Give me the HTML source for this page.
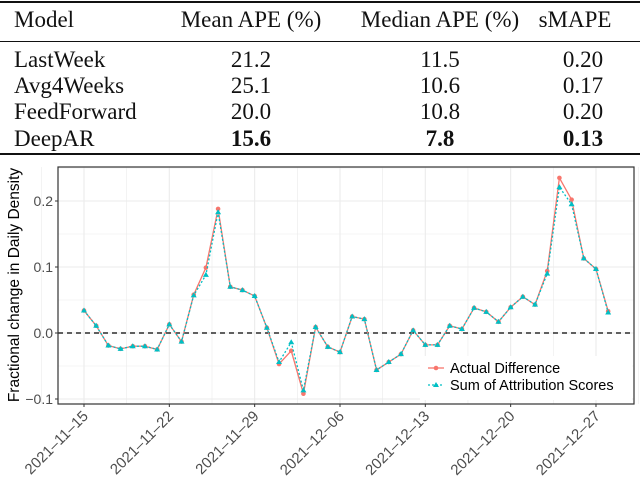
<!DOCTYPE html>
<html><head><meta charset="utf-8"><style>
body{margin:0;background:#fff;width:640px;height:479px;overflow:hidden;position:relative;font-family:"Liberation Serif",serif}
.t{position:absolute;font-size:23px;line-height:23px;color:#111;white-space:nowrap}
.c{transform:translateX(-50%)}
.rule{position:absolute;left:0;width:640px;background:#111}
</style></head><body>
<div>
<div class="rule" style="top:1px;height:2px"></div>
<div class="rule" style="top:41px;height:1px"></div>
<div class="rule" style="top:153px;height:2px"></div>
<div class="t" style="left:14px;top:8px">Model</div>
<div class="t c" style="left:251px;top:8px">Mean APE (%)</div>
<div class="t c" style="left:440px;top:8px">Median APE (%)</div>
<div class="t c" style="left:575px;top:8px">sMAPE</div>
<div class="t" style="left:14px;top:48px">LastWeek</div>
<div class="t c" style="left:251px;top:48px">21.2</div>
<div class="t c" style="left:440px;top:48px">11.5</div>
<div class="t c" style="left:583px;top:48px">0.20</div>
<div class="t" style="left:14px;top:74px">Avg4Weeks</div>
<div class="t c" style="left:251px;top:74px">25.1</div>
<div class="t c" style="left:440px;top:74px">10.6</div>
<div class="t c" style="left:583px;top:74px">0.17</div>
<div class="t" style="left:14px;top:100px">FeedForward</div>
<div class="t c" style="left:251px;top:100px">20.0</div>
<div class="t c" style="left:440px;top:100px">10.8</div>
<div class="t c" style="left:583px;top:100px">0.20</div>
<div class="t" style="left:14px;top:127px">DeepAR</div>
<div class="t c" style="left:251px;top:127px;font-weight:bold">15.6</div>
<div class="t c" style="left:440px;top:127px;font-weight:bold">7.8</div>
<div class="t c" style="left:583px;top:127px;font-weight:bold">0.13</div>
</div>
<svg id="chart" width="640" height="479" style="position:absolute;left:0;top:0" font-family="Liberation Sans, sans-serif"></svg>
<script>
const dayLabels=["2021-11-15","2021-11-22","2021-11-29","2021-12-06","2021-12-13","2021-12-20","2021-12-27"];
const tickDays=[0,7,14,21,28,35,42];
const yTicks=[-0.1,0.0,0.1,0.2];
const actual=[0.034,0.011,-0.019,-0.024,-0.020,-0.020,-0.025,0.013,-0.013,0.058,0.099,0.188,0.070,0.065,0.056,0.008,-0.047,-0.027,-0.092,0.009,-0.021,-0.029,0.025,0.021,-0.056,-0.044,-0.032,0.004,-0.018,-0.018,0.011,0.006,0.038,0.032,0.017,0.039,0.055,0.043,0.094,0.235,0.202,0.113,0.097,0.033];
const attribution=[0.034,0.011,-0.019,-0.024,-0.020,-0.020,-0.025,0.013,-0.013,0.057,0.088,0.183,0.070,0.065,0.056,0.008,-0.044,-0.014,-0.087,0.009,-0.021,-0.029,0.025,0.021,-0.056,-0.044,-0.032,0.004,-0.018,-0.018,0.011,0.006,0.038,0.032,0.017,0.039,0.055,0.043,0.090,0.221,0.195,0.113,0.097,0.031];
const NS="http://www.w3.org/2000/svg",svg=document.getElementById("chart");
const L=58,T=167,R=634,B=404;
const x=d=>84+d*12.19, y=v=>333-v*660;
function el(t,a,p){const e=document.createElementNS(NS,t);for(const k in a)e.setAttribute(k,a[k]);(p||svg).appendChild(e);return e;}
for(let v=-0.1;v<=0.25;v+=0.05){const g=el("line",{x1:L,x2:R,y1:y(v),y2:y(v),stroke:"#ebebeb","stroke-width":Math.abs(Math.round(v*100)%10)<1?1.1:0.6});

}
for(let d=-3.5;d<46;d+=3.5){const g=el("line",{x1:x(d),x2:x(d),y1:T,y2:B,stroke:"#ebebeb","stroke-width":Math.abs(d%7)<0.01?1.1:0.6});

}
const zl=el("line",{x1:L,x2:R,y1:y(0),y2:y(0),stroke:"#000","stroke-width":1.3,"stroke-dasharray":"5,4"});


function series(vals,col,dash,name,tri){
 const p=el("polyline",{points:vals.map((v,i)=>x(i)+","+y(v)).join(" "),fill:"none",stroke:col,"stroke-width":1.3,"stroke-dasharray":dash});
 
 
 vals.forEach((v,i)=>{let m;
  if(tri){m=el("polygon",{points:`${x(i)},${y(v)-3} ${x(i)-3},${y(v)+2} ${x(i)+3},${y(v)+2}`,fill:col});}
  else{m=el("circle",{cx:x(i),cy:y(v),r:2.3,fill:col});}
  
  });
}
series(actual,"#F8766D","",'actual-difference',false);
series(attribution,"#00BFC4","2,2",'attribution-sum',true);
const fr=el("rect",{x:L,y:T,width:R-L,height:B-T,fill:"none",stroke:"#333","stroke-width":1.2});


yTicks.forEach(v=>{const tk=el("line",{x1:L-3,x2:L,y1:y(v),y2:y(v),stroke:"#333"});


const t=el("text",{x:L-5,y:y(v)+5,"text-anchor":"end","font-size":14,fill:"#4d4d4d"});t.textContent=v.toFixed(1).replace("-","\u2212");

});
tickDays.forEach((d,i)=>{const tk=el("line",{x1:x(d),x2:x(d),y1:B,y2:B+3,stroke:"#333"});


const t=el("text",{x:x(d)+5,y:B+13,"text-anchor":"end","font-size":15,fill:"#4d4d4d",transform:`rotate(-45 ${x(d)+5} ${B+13})`});t.textContent=dayLabels[i].replace(/-/g,"\u2013");

});
const yt=el("text",{x:19,y:285,"text-anchor":"middle","font-size":15.5,fill:"#000",transform:"rotate(-90 19 285)"});yt.textContent="Fractional change in Daily Density";


const lg=el("g",{});


el("rect",{x:420,y:356,width:212,height:44,fill:"#fff"},lg);
el("line",{x1:428,x2:444,y1:368,y2:368,stroke:"#F8766D","stroke-width":1.3},lg);
el("circle",{cx:436,cy:368,r:2.3,fill:"#F8766D"},lg);
el("line",{x1:428,x2:444,y1:385,y2:385,stroke:"#00BFC4","stroke-width":1.3,"stroke-dasharray":"2,2"},lg);
el("polygon",{points:"436,382 433,387 439,387",fill:"#00BFC4"},lg);
const l1=el("text",{x:450,y:373,"font-size":14.5},lg);l1.textContent="Actual Difference";


const l2=el("text",{x:450,y:390,"font-size":14.5},lg);l2.textContent="Sum of Attribution Scores";


</script>
</body></html>
